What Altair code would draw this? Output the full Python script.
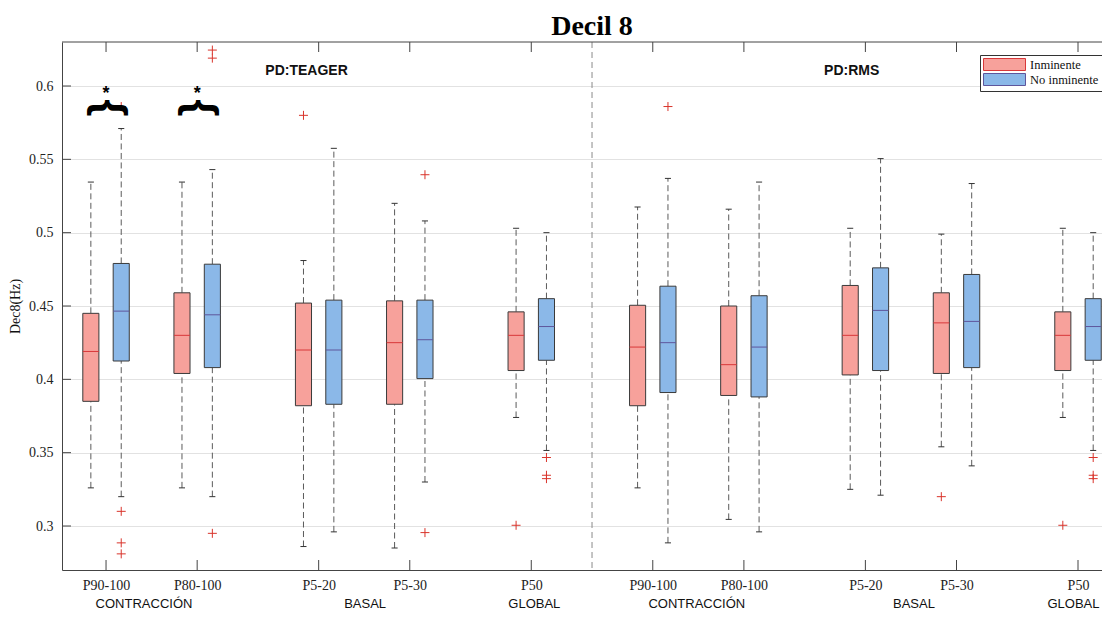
import altair as alt
import pandas as pd

# ---------------- data ----------------
group_pos = [1, 4, 8, 11, 15, 19, 22, 26, 29, 33]
group_labels = ["P90-100", "P80-100", "P5-20", "P5-30", "P50",
                "P90-100", "P80-100", "P5-20", "P5-30", "P50"]
series_names = ["Inminente", "No inminente"]

# Inminente (red) boxes
red_lo  = [0.326, 0.326, 0.286, 0.285, 0.374, 0.326, 0.3045, 0.325, 0.354, 0.374]
red_q1  = [0.385, 0.404, 0.382, 0.383, 0.406, 0.382, 0.389, 0.403, 0.404, 0.406]
red_med = [0.419, 0.430, 0.420, 0.425, 0.430, 0.422, 0.410, 0.430, 0.4385, 0.430]
red_q3  = [0.445, 0.459, 0.452, 0.4535, 0.446, 0.4505, 0.450, 0.464, 0.459, 0.446]
red_hi  = [0.5345, 0.5345, 0.481, 0.520, 0.503, 0.5175, 0.516, 0.503, 0.499, 0.503]

# No inminente (blue) boxes
blue_lo  = [0.320, 0.320, 0.296, 0.330, 0.3515, 0.2885, 0.296, 0.321, 0.341, 0.3515]
blue_q1  = [0.4125, 0.408, 0.383, 0.4005, 0.413, 0.391, 0.388, 0.406, 0.408, 0.413]
blue_med = [0.4465, 0.444, 0.420, 0.427, 0.436, 0.425, 0.422, 0.447, 0.4395, 0.436]
blue_q3  = [0.479, 0.4785, 0.454, 0.454, 0.455, 0.4635, 0.457, 0.476, 0.4715, 0.455]
blue_hi  = [0.571, 0.543, 0.5575, 0.508, 0.500, 0.537, 0.5345, 0.5505, 0.5335, 0.500]

# outliers: (group index, series, value)
out_group  = [0, 0, 0, 0, 1, 1, 1, 2, 3, 3, 4, 4, 4, 4, 5, 8, 9, 9, 9, 9]
out_series = ["No inminente"] * 7 + ["Inminente", "No inminente", "No inminente",
              "Inminente", "No inminente", "No inminente", "No inminente",
              "No inminente", "Inminente", "Inminente",
              "No inminente", "No inminente", "No inminente"]
out_value  = [0.586, 0.310, 0.2885, 0.281, 0.6245, 0.619, 0.295, 0.580, 0.5395, 0.2955,
              0.3005, 0.3467, 0.3346, 0.3323, 0.586, 0.320, 0.3005, 0.3467, 0.3346, 0.3323]

# title, section headers and group labels
title_text = ["Decil 8"]

section_text = ["PD:TEAGER", "PD:RMS"]
section_x = [7.6, 25.55]
section_y = [0.610, 0.610]

cat_text = ["CONTRACCIÓN", "BASAL", "GLOBAL", "CONTRACCIÓN", "BASAL", "GLOBAL"]
cat_x = [2.25, 9.53, 15.1, 20.45, 27.6, 32.85]

sep_x = [17]

# significance marks
sig_x = [1, 4]
sig_brace_y = [0.585, 0.585]
sig_star_y = [0.5945, 0.5945]

y_ticks = [0.3, 0.35, 0.4, 0.45, 0.5, 0.55, 0.6]

# ---------------- tables ----------------
rows = []
for i, p in enumerate(group_pos):
    rows.append(dict(pos=p, series="Inminente", lo=red_lo[i], q1=red_q1[i], med=red_med[i], q3=red_q3[i], hi=red_hi[i]))
    rows.append(dict(pos=p, series="No inminente", lo=blue_lo[i], q1=blue_q1[i], med=blue_med[i], q3=blue_q3[i], hi=blue_hi[i]))
box_df = pd.DataFrame(rows)

out_df = pd.DataFrame(dict(pos=[group_pos[g] for g in out_group], series=out_series, value=out_value))
sec_df = pd.DataFrame(dict(x=section_x, y=section_y, t=section_text))
cat_df = pd.DataFrame(dict(x=cat_x, t=cat_text))
sep_df = pd.DataFrame(dict(x=sep_x))
sig_df = pd.DataFrame(dict(x=sig_x, yb=sig_brace_y, ys=sig_star_y))
xt_df = pd.DataFrame(dict(x=group_pos))
yt_df = pd.DataFrame(dict(y=y_ticks))
title_df = pd.DataFrame(dict(t=title_text))

# ---------------- styling ----------------
W, H = 1040, 528
SERIF = "Liberation Serif"
SANS = "Liberation Sans"
xs = alt.Scale(domain=[-0.45, 33.79], nice=False, zero=False)
ys = alt.Scale(domain=[0.27, 0.63], nice=False, zero=False)

fill_scale = alt.Scale(domain=series_names, range=["#F7A19B", "#8BB8E8"])
med_scale = alt.Scale(domain=series_names, range=["#D8383A", "#5E569C"])

offset_expr = "datum.pos + (datum.series == 'Inminente' ? -0.5 : 0.5)"

label_expr = " : ".join(f"datum.value == {p} ? '{l}'" for p, l in zip(group_pos, group_labels)) + " : ''"

box_base = alt.Chart(box_df).transform_calculate(
    xc=offset_expr
).transform_calculate(
    xl="datum.xc - 0.265", xr="datum.xc + 0.265",
    cl="datum.xc - 0.1", cr="datum.xc + 0.1"
)

X_AXIS = alt.Axis(values=group_pos, labelExpr=label_expr, grid=False, tickSize=0,
                  labelFont=SERIF, labelFontSize=14, labelColor="#222", labelPadding=8,
                  domainColor="#444", title=None, labelAngle=0)
Y_AXIS = alt.Axis(values=y_ticks, format="~g", grid=True, gridColor="#E2E2E2", tickSize=0,
                  labelFont=SERIF, labelFontSize=14, labelColor="#222", labelPadding=9,
                  domainColor="#444", title="Dec8(Hz)", titleFont=SERIF, titleFontSize=14,
                  titleFontWeight="normal", titleColor="#111", titlePadding=6)


def X(f):
    return alt.X(f, scale=xs, axis=X_AXIS)


def Y(f):
    return alt.Y(f, scale=ys, axis=Y_AXIS)


grid_sep = alt.Chart(sep_df).mark_rule(color="#8A8A8A", strokeDash=[6, 4], strokeWidth=1).encode(
    x=X("x:Q")
)

whisk_hi = box_base.mark_rule(color="#5A5A5A", strokeDash=[6, 3.5], strokeWidth=1).encode(
    x=X("xc:Q"), y=Y("q3:Q"), y2="hi:Q")
whisk_lo = box_base.mark_rule(color="#5A5A5A", strokeDash=[6, 3.5], strokeWidth=1).encode(
    x=X("xc:Q"), y=Y("lo:Q"), y2="q1:Q")

boxes = box_base.mark_rect(stroke="#3A3A3A", strokeWidth=1).encode(
    x=X("xl:Q"),
    x2="xr:Q",
    y=Y("q1:Q"),
    y2="q3:Q",
    fill=alt.Fill("series:N", scale=fill_scale, legend=alt.Legend(
        title=None, orient="none", legendX=918, legendY=13,
        symbolType="M-1,-1L6,-1L6,1L-1,1Z", symbolSize=144,
        symbolStrokeColor="#444", symbolStrokeWidth=1, symbolOpacity=1,
        labelFont=SERIF, labelFontSize=12.5, labelColor="#111", labelOffset=34,
        strokeColor="#333", fillColor="white", padding=3, rowPadding=-2)),
)

cap_hi = box_base.mark_rule(color="#333", strokeWidth=1).encode(
    x=X("cl:Q"), x2="cr:Q", y=Y("hi:Q"))
cap_lo = box_base.mark_rule(color="#333", strokeWidth=1).encode(
    x=X("cl:Q"), x2="cr:Q", y=Y("lo:Q"))
medians = box_base.mark_rule(strokeWidth=1).encode(
    x=X("xl:Q"), x2="xr:Q", y=Y("med:Q"),
    stroke=alt.Stroke("series:N", scale=med_scale, legend=None))

outliers = alt.Chart(out_df).transform_calculate(xc=offset_expr).mark_point(
    shape="M-1,0L1,0M0,-1L0,1", size=81, filled=False, stroke="#D9342B", strokeWidth=1, opacity=1
).encode(x=X("xc:Q"), y=Y("value:Q"))

# inward ticks and top frame line
ticks_bottom = alt.Chart(xt_df).mark_rule(color="#444").encode(
    x=X("x:Q"), y=alt.value(H), y2=alt.value(H - 10))
ticks_top = alt.Chart(xt_df).mark_rule(color="#444").encode(
    x=X("x:Q"), y=alt.value(0), y2=alt.value(10))
ticks_left = alt.Chart(yt_df).mark_rule(color="#444").encode(
    y=Y("y:Q"), x=alt.value(0), x2=alt.value(9))
top_line = alt.Chart(sep_df).mark_rule(color="#444").encode(
    x=alt.value(0), x2=alt.value(W), y=alt.value(0))

sections = alt.Chart(sec_df).mark_text(font=SANS, fontSize=14, fontWeight="bold", color="#111").encode(
    x=X("x:Q"), y=Y("y:Q"), text="t:N")

cats = alt.Chart(cat_df).mark_text(font=SANS, fontSize=13, color="#111", baseline="alphabetic").encode(
    x=X("x:Q"), y=alt.value(H + 38), text="t:N")

braces = alt.Chart(sig_df).mark_text(text="}", font=SANS, fontSize=44, fontWeight="bold",
                                     angle=270, color="black", baseline="middle").encode(
    x=X("x:Q"), y=Y("yb:Q"))
stars = alt.Chart(sig_df).mark_text(text="*", font=SANS, fontSize=18, fontWeight="bold",
                                    color="black", baseline="middle").encode(
    x=X("x:Q"), y=Y("ys:Q"))

title_mark = alt.Chart(title_df).mark_text(font=SERIF, fontSize=28, fontWeight="bold", color="black",
                                           baseline="alphabetic", align="center").encode(
    x=alt.value(530), y=alt.value(-7), text="t:N")

chart = alt.layer(
    grid_sep, whisk_hi, whisk_lo, boxes, medians, cap_hi, cap_lo, outliers,
    ticks_bottom, ticks_top, ticks_left, top_line, sections, cats, braces, stars, title_mark
).properties(
    width=W, height=H,
    autosize=alt.AutoSizeParams(type="none"),
    padding={"left": 54, "top": 34, "right": 0, "bottom": 41},
).configure_view(stroke=None).configure_legend(strokeWidth=1)

chart.save("out.html", embed_options={"renderer": "svg", "actions": False})
